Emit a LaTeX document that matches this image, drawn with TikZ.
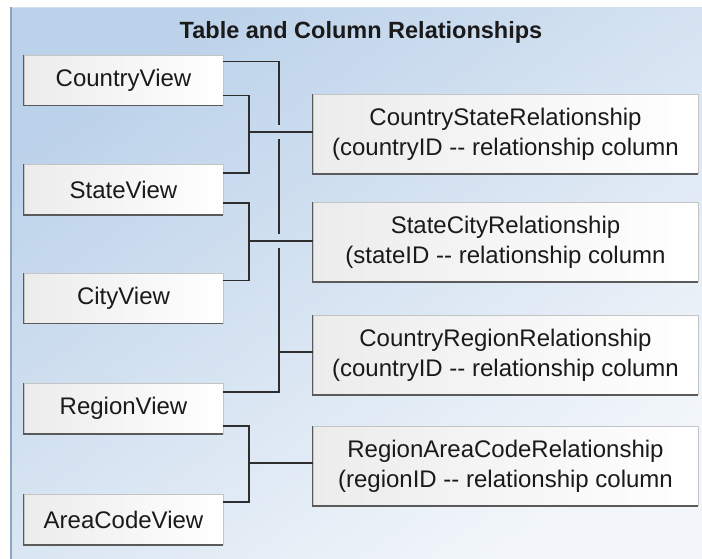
\documentclass[tikz,border=0pt]{standalone}
\usepackage{fontspec}
\setmainfont{Liberation Sans}[Ligatures=TeXOff]
\usetikzlibrary{calc}
\definecolor{bgdark}{HTML}{BCD2EA}
\definecolor{bglight}{HTML}{F2F6FA}
\definecolor{frameedge}{HTML}{8CA5C4}
\definecolor{frametop}{HTML}{D3DFEC}
\definecolor{boxgray}{HTML}{ECECEC}
\definecolor{boxline}{HTML}{C4C4C4}
\definecolor{boxshadow}{HTML}{5A5A5A}
\definecolor{conncol}{HTML}{2E2E2E}
\definecolor{txt}{HTML}{1A1A1A}
\tikzset{
  viewbox/.style={rectangle, draw=boxline, line width=0.8pt, left color=boxgray, right color=white,
    minimum width=199pt, minimum height=50pt, inner sep=0pt, text=txt,
    font=\fontsize{24pt}{30pt}\selectfont},
  relbox/.style={rectangle, draw=boxline, line width=0.8pt, left color=boxgray, right color=white,
    minimum width=385pt, minimum height=79pt, inner sep=0pt, text=txt, align=center,
    font=\fontsize{24pt}{30pt}\selectfont},
  shadowedge/.style={draw=boxshadow, line width=1.6pt},
  conn/.style={draw=conncol, line width=1.5pt},
  titletext/.style={text=txt, font=\bfseries\fontsize{23.5pt}{28pt}\selectfont}
}
\begin{document}
\begin{tikzpicture}[x=1pt,y=-1pt]
\useasboundingbox (0,0) rectangle (702,558);
\fill[white] (0,0) rectangle (702,558);
% frame
\shade[left color=bgdark, right color=bglight, shading angle=35] (11,7) rectangle (703,559);
\draw[frametop, line width=1pt] (11,7.5) -- (703,7.5);
\draw[frameedge, line width=2pt] (11,7) -- (11,559);
% title
\node[titletext] (title) at (361,32) {Table and Column Relationships};
% left boxes
\node[viewbox] (cv) at (123.5,80) {CountryView};
\node[viewbox] (sv) at (123.5,189.5) {StateView};
\node[viewbox] (ctv) at (123.5,298) {CityView};
\node[viewbox] (rv) at (123.5,408.5) {RegionView};
\node[viewbox] (av) at (123.5,519.5) {AreaCodeView};
% right boxes
\node[relbox] (csr) at (505.5,134) {CountryStateRelationship\\(countryID -- relationship column};
\node[relbox] (scr) at (505.5,242) {StateCityRelationship\\(stateID -- relationship column};
\node[relbox] (crr) at (505.5,355) {CountryRegionRelationship\\(countryID -- relationship column};
\node[relbox] (rar) at (505.5,466) {RegionAreaCodeRelationship\\(regionID -- relationship column};
\foreach \n in {cv,sv,ctv,rv,av,csr,scr,crr,rar}{
  \draw[shadowedge] (\n.north west) -- (\n.south west) -- (\n.south east);
}
% bus positions
\coordinate (ba) at (249,0);
\coordinate (bb) at (279,0);
\coordinate (h1) at ([yshift=2pt]csr.west);
\coordinate (h2) at ([yshift=1pt]scr.west);
\coordinate (h3) at ([yshift=3pt]crr.west);
\coordinate (h4) at ([yshift=3pt]rar.west);
% Country - State
\draw[conn] ([yshift=10pt]cv.south east) -| (ba |- h1) |- ([yshift=-9pt]sv.north east);
\draw[conn] (h1) -- (ba |- h1);
% State - City
\draw[conn] ([yshift=12pt]sv.south east) -| (ba |- h2) |- ([yshift=-8pt]ctv.north east);
\draw[conn] (h2) -- (ba |- h2);
% Region - AreaCode
\draw[conn] ([yshift=8pt]rv.south east) -| (ba |- h4) |- ([yshift=-8pt]av.north east);
\draw[conn] (h4) -- (ba |- h4);
% Country - Region (long bus with hops)
\coordinate (g1a) at ($(bb |- h1)+(0,-7)$);
\coordinate (g1b) at ($(bb |- h1)+(0,7)$);
\coordinate (g2a) at ($(bb |- h2)+(0,-7)$);
\coordinate (g2b) at ($(bb |- h2)+(0,7)$);
\draw[conn] ([yshift=-7pt]cv.north east) -| (g1a);
\draw[conn] (g1b) -- (g2a);
\draw[conn] (g2b) |- ([yshift=-9pt]rv.north east);
\draw[conn] (h3) -- (bb |- h3);
\end{tikzpicture}
\end{document}
